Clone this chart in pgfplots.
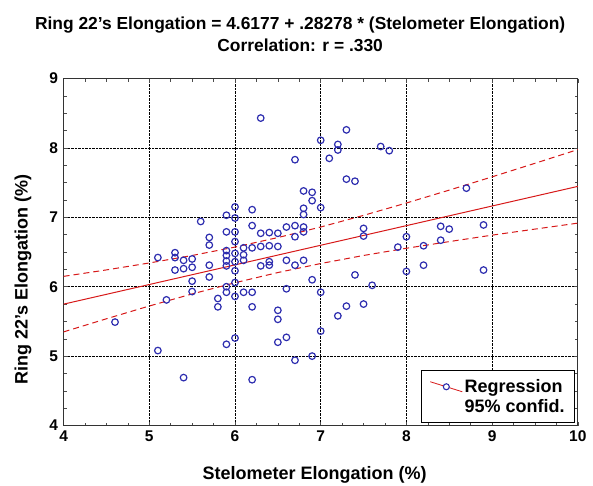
\documentclass[border=0pt]{standalone}
\usepackage{pgfplots}
\pgfplotsset{compat=1.18}
\usepackage{fontspec}
\setmainfont{Liberation Sans}
\definecolor{ptblue}{RGB}{45,45,175}
\definecolor{fitred}{RGB}{215,25,25}

% Stelometer vs. ring elongation, one row per sample
\pgfplotstableread{
x y
4.6 5.49
5.1 5.08
5.1 6.42
5.2 5.81
5.3 6.49
5.3 6.42
5.3 6.24
5.4 4.69
5.4 6.38
5.4 6.26
5.5 6.40
5.5 6.28
5.5 6.08
5.5 5.93
5.6 6.94
5.7 6.71
5.7 6.60
5.7 6.31
5.7 6.14
5.8 5.83
5.8 5.71
5.9 7.03
5.9 6.79
5.9 6.52
5.9 6.45
5.9 6.37
5.9 6.30
5.9 6.00
5.9 5.92
5.9 5.17
6.0 7.15
6.0 6.99
6.0 6.79
6.0 6.65
6.0 6.48
6.0 6.36
6.0 6.23
6.0 6.06
6.0 5.86
6.0 5.26
6.1 6.56
6.1 6.46
6.1 6.38
6.1 5.92
6.2 7.11
6.2 6.88
6.2 6.56
6.2 5.92
6.2 5.71
6.2 4.66
6.3 8.43
6.3 6.77
6.3 6.58
6.3 6.30
6.4 6.78
6.4 6.59
6.4 6.36
6.4 6.31
6.5 6.77
6.5 6.58
6.5 5.66
6.5 5.53
6.5 5.20
6.6 6.86
6.6 6.38
6.6 5.97
6.6 5.27
6.7 7.83
6.7 6.88
6.7 6.72
6.7 6.31
6.7 4.94
6.8 7.38
6.8 7.13
6.8 7.04
6.8 6.86
6.8 6.79
6.8 6.38
6.9 7.36
6.9 7.24
6.9 6.10
6.9 5.00
7.0 8.11
7.0 7.14
7.0 5.92
7.0 5.36
7.1 7.85
7.2 8.05
7.2 7.97
7.2 5.58
7.3 8.26
7.3 7.55
7.3 5.72
7.4 7.52
7.4 6.17
7.5 6.84
7.5 6.73
7.5 5.75
7.6 6.02
7.7 8.02
7.8 7.96
7.9 6.57
8.0 6.72
8.0 6.22
8.2 6.59
8.2 6.31
8.4 6.87
8.4 6.67
8.5 6.83
8.7 7.42
8.9 6.89
8.9 6.24
}\samples

\begin{document}
\begin{tikzpicture}
\begin{axis}[
  scale only axis,
  width=514.2pt, height=347pt,
  xmin=4, xmax=10, ymin=4, ymax=9,
  xtick={4,...,10}, ytick={4,...,9},
  minor x tick num=3, minor y tick num=3,
  tick align=inside,
  major tick length=4pt, minor tick length=3pt,
  grid=major,
  major grid style={black, densely dotted, line width=0.7pt},
  axis line style={black!80, line width=1.2pt},
  tick style={black!70, line width=0.5pt},
  ticklabel style={font=\bfseries\fontsize{15.5}{17}\selectfont},
  /pgf/number format/assume math mode=true,
  xticklabel style={yshift=-2pt},
  yticklabel style={xshift=-2pt},
  title={Ring 22's Elongation = 4.6177 + .28278 * (Stelometer Elongation)\\Correlation: r = .330},
  title style={at={(axis description cs:0.46,1.109)}, anchor=center, align=center,
    font=\bfseries\fontsize{17.4}{22}\selectfont},
  xlabel={Stelometer Elongation (\%)},
  ylabel={Ring 22's Elongation (\%)},
  label style={font=\bfseries\fontsize{18}{20}\selectfont},
  xlabel style={at={(axis description cs:0.488,-0.142)}, anchor=center},
  ylabel style={at={(axis description cs:-0.079,0.42)}, anchor=center},
  legend style={at={(axis description cs:0.995,0.007)}, anchor=south east,
    draw=black, line width=1pt, fill=white,
    font=\bfseries\fontsize{18}{20}\selectfont, inner xsep=8pt, inner ysep=7pt,
    row sep=1pt},
  legend cell align=left,
]
% sample points
\addplot[only marks, mark=o, mark size=3.3pt, ptblue,
  mark options={line width=1.2pt}, forget plot] table {\samples};
% least-squares fit and its 95% confidence band
\addplot[fitred, line width=1pt, forget plot] coordinates {(4,5.7488) (10,7.4455)};
\addplot[fitred, line width=1pt, dash pattern=on 6pt off 4pt, forget plot] coordinates {
  (4,6.149) (4.5,6.242) (5,6.342) (5.5,6.450) (6,6.571) (6.5,6.708) (7,6.860)
  (7.5,7.028) (8,7.206) (8.5,7.392) (9,7.583) (9.5,7.778) (10,7.976)};
\addplot[fitred, line width=1pt, dash pattern=on 6pt off 4pt, forget plot] coordinates {
  (4,5.349) (4.5,5.538) (5,5.722) (5.5,5.896) (6,6.057) (6.5,6.204) (7,6.334)
  (7.5,6.450) (8,6.554) (8.5,6.650) (9,6.743) (9.5,6.830) (10,6.916)};
\addlegendimage{legend image code/.code={
  \draw[fitred, line width=0.8pt] (0pt,5pt) -- (32pt,-5pt);
  \draw[ptblue, line width=1.1pt, fill=white] (16pt,0pt) circle (3pt);}}
\addlegendentry{Regression}
\addlegendimage{empty legend}
\addlegendentry{95\% confid.}
\end{axis}
\pgfresetboundingbox
\path (-63.6pt,-59.5pt) rectangle (529.4pt,425.5pt);
\end{tikzpicture}
\end{document}
